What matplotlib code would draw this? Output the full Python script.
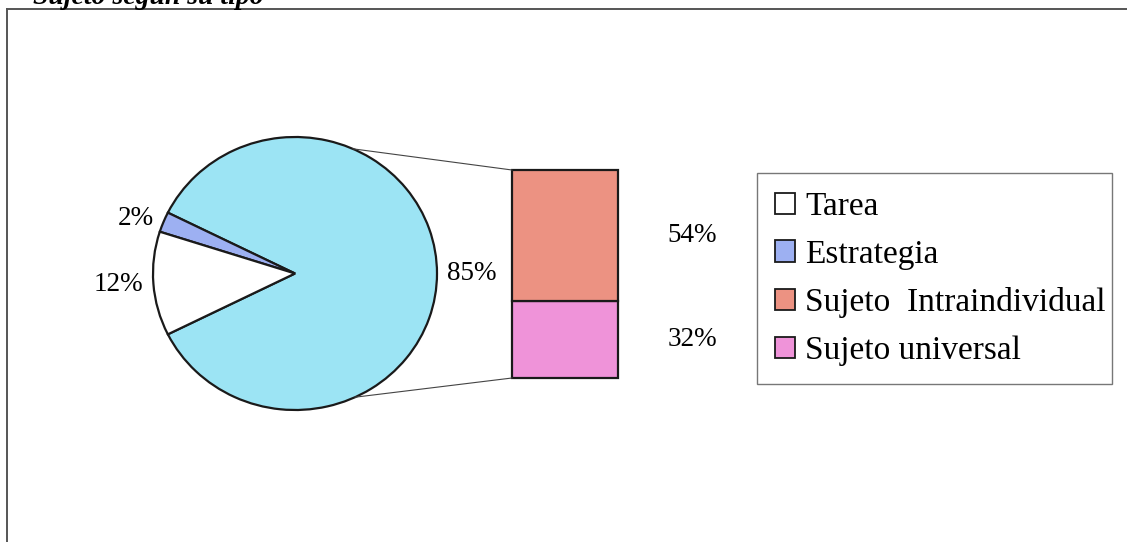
import matplotlib
matplotlib.use('Agg')
import matplotlib.pyplot as plt
from matplotlib.patches import Patch, ConnectionPatch
from matplotlib.lines import Line2D
import numpy as np

plt.rcParams['font.family'] = ['Liberation Serif', 'DejaVu Serif']

# data (percent of total)
pie_labels = ["Tarea", "Estrategia"]
pie_values = [12.3, 2.4]
bar_labels = ["Sujeto  Intraindividual", "Sujeto universal"]
bar_values = [53.6, 31.7]
title = "Sujeto según su tipo"

pie_colors = ["#ffffff", "#9db0f2"]
other_color = "#9ce4f4"
bar_colors = ["#ec9282", "#ef93d9"]
edge = "#1a1a1a"

W, H = 1127, 542
fig = plt.figure(figsize=(W / 100, H / 100), dpi=100)
fig.patch.set_facecolor("white")

def px_axes(x0, y0, x1, y1):
    # image pixel box -> figure axes
    return fig.add_axes([x0 / W, 1 - y1 / H, (x1 - x0) / W, (y1 - y0) / H])

# ---- pie ----
ax_pie = px_axes(153, 137, 437, 410)
other = sum(bar_values)
vals = [other, pie_values[1], pie_values[0]]
cols = [other_color, pie_colors[1], pie_colors[0]]
start = -other / 100 * 360 / 2
wedges, texts = ax_pie.pie(vals, colors=cols, startangle=start, counterclock=True,
                           labels=[f"{v:.0f}%" for v in vals], labeldistance=1.07,
                           wedgeprops=dict(edgecolor=edge, linewidth=1.6),
                           textprops=dict(fontsize=19.5))
ax_pie.set_aspect('auto')
ax_pie.set_xlim(-1, 1)
ax_pie.set_ylim(-1, 1)
ax_pie.axis('off')

# ---- bar ----
ax_bar = px_axes(512, 170, 618, 378)
bottom = 0
for v, c in zip(bar_values[::-1], bar_colors[::-1]):
    ax_bar.bar(0.5, v, width=1, bottom=bottom, color=c, edgecolor=edge,
               linewidth=1.6, clip_on=False)
    ax_bar.text(1.47, bottom + v / 2, f"{v:.0f}%", ha='left', va='center',
                fontsize=19.5, clip_on=False)
    bottom += v
ax_bar.set_xlim(0, 1)
ax_bar.set_ylim(0, other)
ax_bar.axis('off')

# connector lines
for ang, yb in [(66, other), (-65, 0)]:
    a = np.deg2rad(ang)
    con = ConnectionPatch(xyA=(np.cos(a), np.sin(a)), coordsA=ax_pie.transData,
                          xyB=(0, yb), coordsB=ax_bar.transData,
                          color="#444444", linewidth=0.8)
    fig.add_artist(con)

# ---- legend ----
handles = [Patch(facecolor=c, edgecolor=edge, linewidth=1.3)
           for c in pie_colors + bar_colors]
leg = fig.legend(handles, pie_labels + bar_labels, loc='upper left',
                 bbox_to_anchor=(757 / W, 1 - 385 / H, 355 / W, 212 / H),
                 mode='expand', fontsize=24,
                 frameon=True, fancybox=False, handlelength=0.6, handleheight=0.6,
                 handletextpad=0.3, labelspacing=0.52, borderpad=0.55,
                 borderaxespad=0)
leg.get_frame().set_edgecolor("#555555")
leg.get_frame().set_linewidth(1.0)

# ---- frame and cropped title ----
fig.add_artist(Line2D([7 / W, 1], [1 - 9 / H, 1 - 9 / H], color="#555555", linewidth=1.4))
fig.add_artist(Line2D([7 / W, 7 / W], [1 - 9 / H, 0], color="#555555", linewidth=1.4))
fig.text(33 / W, 1 - 4 / H, title, fontsize=20, fontweight='bold', fontstyle='italic',
         ha='left', va='baseline')

fig.savefig("out.png", dpi=100)
